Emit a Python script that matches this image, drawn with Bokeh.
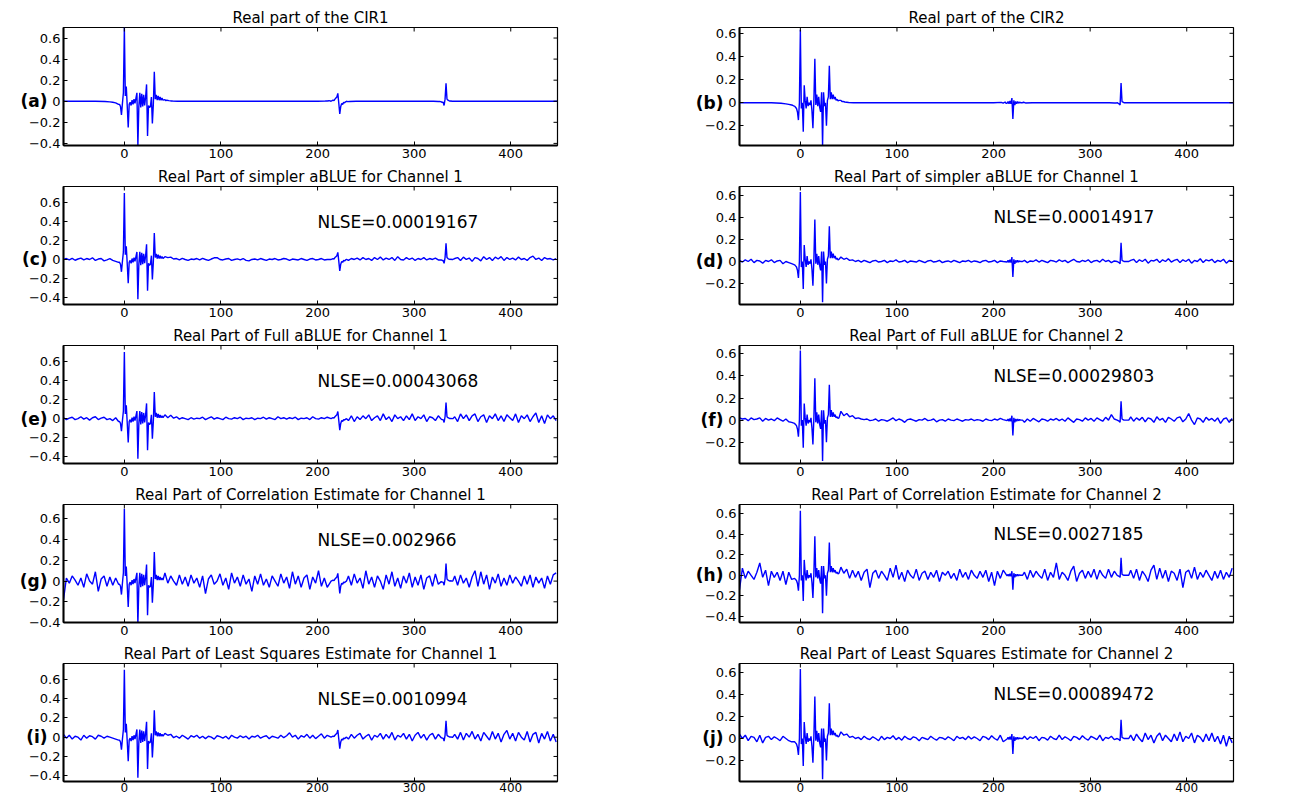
import math
from bokeh.plotting import figure
from bokeh.layouts import column, row
from bokeh.models import Range1d, FixedTicker, LinearAxis, Label
from bokeh.embed import file_html
from bokeh.resources import INLINE

# ---------------- data ----------------
X_START, X_END = -63, 448.4
X_TICKS = [0, 100, 200, 300, 400]

# sample indices of the dense parts (main cluster, echo near 220, echo near 333)
CORE1_X = list(range(-6, 41))
CORE2_X = list(range(214, 231))
CORE3_X = list(range(328, 341))
# sample indices of the background (noise) samples in the estimates
BG_X = list(range(-63, -7, 3)) + list(range(42, 213, 3)) + list(range(232, 327, 3)) + list(range(342, 449, 3))

CH1_CORE1 = [-0.03, -0.03, -0.05, -0.13, -0.02, 0.08, 0.70, 0.05, 0.14, -0.05,
             -0.25, -0.03, -0.01, -0.04, 0.01, -0.03, 0.02, -0.02, 0.03, 0.08,
             -0.42, -0.05, 0.08, -0.06, 0.07, -0.05, 0.06, -0.04, 0.04, 0.16,
             -0.33, -0.04, -0.06, -0.05, 0.04, -0.21, -0.03, 0.28, 0.02, 0.06,
             0.01, 0.05, 0.01, 0.04, 0.01, 0.03, 0.01]
CH1_CORE2 = [0.0, 0.005, 0.01, 0.005, 0.02, 0.03, 0.04, 0.075, -0.02, -0.12,
             -0.05, -0.02, -0.03, -0.01, -0.015, -0.005, 0.0]
CH1_CORE3 = [-0.005, -0.01, -0.01, -0.04, 0.02, 0.17, 0.02, 0.01, 0.005, 0.0,
             0.003, 0.0, 0.0]

CH2_CORE1 = [-0.03, -0.04, -0.05, -0.08, -0.15, 0.0, 0.63, -0.05, 0.0, -0.25,
             0.15, 0.02, -0.05, 0.05, -0.03, 0.0, -0.02, 0.02, -0.07, -0.22,
             0.02, 0.38, -0.02, 0.07, -0.03, 0.05, -0.04, -0.08, 0.09, -0.37,
             0.09, -0.03, 0.0, -0.20, 0.02, 0.05, 0.32, 0.03, 0.09, 0.03,
             0.07, 0.03, 0.05, 0.02, 0.03, 0.015, 0.02]
CH2_CORE2 = [-0.005, 0.01, -0.01, 0.015, -0.01, 0.04, -0.14, 0.02, -0.02, 0.01,
             -0.01, 0.01, -0.005, 0.005, 0.0, 0.0, 0.0]
CH2_CORE3 = [0.0, -0.005, -0.01, -0.02, 0.17, 0.01, 0.005, 0.0, 0.0, 0.0,
             0.0, 0.0, 0.0]

# true CIR outside the dense parts
CIR1_TAIL_X = [-63, -30, -20, -15, -12, -9, -8, -7, 42, 43, 44, 46, 48, 50, 55,
               200, 208, 210, 212, 213, 231, 233, 240, 320, 325, 327, 341, 448]
CIR1_TAIL_Y = [0.0, 0.0, -0.003, -0.006, -0.01, -0.015, -0.02, -0.025, 0.015, 0.005, 0.01, 0.006, 0.003, 0.002, 0.0,
               0.0, 0.002, 0.003, 0.005, 0.004, -0.004, -0.002, 0.0, 0.0, -0.002, -0.003, 0.0, 0.0]
CIR2_TAIL_X = [-63, -30, -20, -15, -12, -9, -8, -7, 42, 43, 44, 46, 48, 50, 55,
               200, 208, 210, 212, 213, 231, 233, 240, 320, 325, 327, 341, 448]
CIR2_TAIL_Y = [0.0, 0.0, -0.005, -0.01, -0.015, -0.02, -0.022, -0.027, 0.02, 0.01, 0.012, 0.006, 0.004, 0.002, 0.0,
               0.0, 0.003, -0.004, 0.006, -0.006, 0.004, -0.002, 0.0, 0.0, -0.002, -0.003, 0.0, 0.0]

# background samples of each estimate (values at BG_X)
BG_C = [0.0, 0.01, -0.005, 0.012, -0.008, 0.005, 0.015, -0.005, 0.01, 0.0,
        0.018, -0.01, 0.005, 0.01, -0.015, -0.005, 0.008, -0.01, -0.02,
        0.03, 0.02, 0.025, 0.005, 0.01, -0.005, 0.012, 0.0, -0.01, 0.005,
        0.0, 0.01, -0.005, 0.012, 0.0, -0.01, 0.005, 0.018, 0.02, 0.0,
        -0.005, 0.005, 0.01, -0.01, 0.0, 0.006, -0.005, 0.01, -0.01, -0.015,
        0.0, 0.005, -0.005, 0.01, 0.0, -0.01, 0.005, 0.0, 0.01, -0.005,
        0.0, 0.01, 0.005, -0.01, 0.005, 0.0, -0.005, 0.01, 0.0, -0.01,
        0.005, 0.01, -0.005, 0.0, 0.01, -0.005, 0.0,
        -0.01, 0.01, 0.0, 0.015, -0.005, 0.02, 0.0, 0.01, -0.01, 0.02,
        0.0, 0.025, -0.005, 0.015, 0.0, 0.02, -0.01, 0.03, 0.0, -0.005,
        0.02, 0.0, 0.015, -0.01, 0.01, 0.0, 0.02, -0.005, 0.01, 0.0,
        0.015, -0.005,
        0.01, 0.02, -0.01, 0.025, 0.0, 0.015, -0.02, 0.02, 0.01, -0.015,
        0.03, 0.0, 0.02, -0.01, 0.025, 0.005, 0.03, -0.01, 0.02, 0.0,
        0.015, -0.005, 0.025, 0.0, 0.01, -0.01, 0.02, 0.035, 0.0, 0.015,
        -0.01, 0.02, 0.005, 0.01, -0.005, 0.01]
BG_D = [0.01, -0.005, 0.015, 0.0, 0.02, -0.01, 0.01, 0.005, -0.015, 0.01,
        0.0, 0.015, -0.01, 0.005, 0.01, -0.02, 0.0, -0.01, -0.02,
        0.04, 0.02, 0.03, 0.01, 0.015, 0.0, 0.01, -0.005, 0.01, 0.0,
        -0.01, 0.005, 0.01, -0.005, 0.0, 0.01, -0.01, 0.005, 0.0, 0.015,
        -0.005, 0.0, 0.01, -0.01, 0.005, 0.0, -0.005, 0.01, 0.0, -0.01,
        0.005, 0.01, -0.005, 0.0, 0.01, -0.01, 0.0, 0.005, -0.005, 0.01,
        0.0, -0.01, 0.005, 0.0, 0.01, -0.005, 0.005, 0.0, -0.01, 0.005,
        0.01, -0.005, 0.0, 0.01, -0.01, 0.005, 0.0,
        0.01, -0.01, 0.005, 0.0, 0.015, -0.005, 0.01, 0.0, -0.01, 0.01,
        0.005, -0.005, 0.015, 0.0, 0.01, -0.01, 0.005, 0.02, 0.0, -0.005,
        0.01, 0.0, 0.015, -0.01, 0.005, 0.01, -0.005, 0.02, 0.0, 0.01,
        -0.01, 0.005,
        0.01, 0.02, -0.01, 0.015, 0.0, 0.02, -0.015, 0.01, 0.005, 0.02,
        -0.01, 0.015, 0.0, 0.025, -0.005, 0.01, 0.02, -0.01, 0.015, 0.0,
        0.02, -0.015, 0.01, 0.0, 0.025, -0.01, 0.015, 0.005, 0.02, -0.01,
        0.01, 0.0, 0.02, -0.015, 0.01, 0.005]
BG_E = [0.01, -0.01, 0.005, 0.015, -0.01, 0.0, 0.02, -0.005, 0.01, -0.015,
        0.01, 0.02, -0.01, 0.005, 0.015, -0.01, 0.0, -0.02, 0.01,
        0.04, 0.01, 0.035, 0.005, 0.02, -0.005, 0.01, 0.0, -0.01, 0.01,
        -0.005, 0.005, 0.0, 0.015, -0.01, 0.005, 0.02, -0.005, 0.01, 0.0,
        -0.01, 0.015, 0.0, -0.005, 0.01, 0.0, 0.015, -0.01, 0.005, 0.0,
        0.01, -0.01, 0.005, 0.0, 0.015, -0.005, 0.01, 0.0, -0.01, 0.02,
        0.0, 0.01, -0.005, 0.01, 0.0, 0.015, -0.01, 0.005, 0.0, 0.01,
        -0.01, 0.02, 0.0, -0.005, 0.01, 0.0, 0.015,
        -0.02, 0.03, -0.03, 0.02, -0.01, 0.03, 0.0, 0.04, -0.02, 0.01,
        0.03, -0.02, 0.05, -0.01, 0.02, -0.03, 0.04, 0.0, 0.02, -0.02,
        0.03, -0.01, 0.05, -0.02, 0.02, 0.0, 0.04, -0.03, 0.02, 0.01,
        -0.02, 0.03,
        0.02, -0.03, 0.05, 0.0, 0.04, -0.02, 0.03, 0.05, -0.03, 0.02,
        0.04, -0.04, 0.03, 0.0, 0.05, -0.02, 0.03, -0.03, 0.04, 0.01,
        -0.02, 0.05, -0.04, 0.03, 0.0, 0.04, -0.03, 0.02, 0.06, -0.04,
        0.03, -0.05, 0.04, 0.0, 0.03, -0.02]
BG_F = [0.02, 0.01, 0.015, -0.005, 0.02, 0.005, 0.01, 0.02, -0.01, 0.015,
        0.0, 0.01, -0.005, 0.02, 0.005, -0.01, 0.01, -0.015, -0.02,
        0.08, 0.04, 0.06, 0.03, 0.04, 0.015, 0.02, 0.01, 0.005, 0.01,
        -0.005, 0.0, 0.01, -0.01, 0.005, 0.0, -0.01, 0.005, 0.02, -0.005,
        0.01, 0.0, -0.02, 0.005, 0.01, 0.0, -0.01, 0.005, 0.0, 0.015,
        -0.005, 0.0, 0.01, -0.015, 0.0, 0.005, -0.01, 0.01, 0.0, -0.005,
        0.01, 0.0, -0.01, 0.005, 0.0, 0.01, -0.005, 0.005, 0.0, -0.01,
        0.01, 0.0, -0.005, 0.01, 0.0, 0.015, 0.005,
        -0.02, 0.01, -0.01, 0.015, 0.0, -0.015, 0.01, 0.005, -0.01, 0.01,
        0.0, 0.015, -0.005, 0.01, -0.01, 0.02, 0.0, -0.02, 0.01, 0.005,
        -0.01, 0.02, 0.0, 0.015, -0.01, 0.02, 0.005, -0.01, 0.025, 0.0,
        0.05, 0.01,
        0.03, -0.01, 0.02, 0.0, 0.025, -0.015, 0.02, 0.01, -0.02, 0.03,
        0.0, 0.015, -0.02, 0.025, 0.01, -0.01, 0.02, 0.03, -0.015, 0.01,
        0.06, 0.0, -0.04, 0.02, 0.01, -0.02, 0.025, 0.0, 0.015, -0.01,
        0.02, -0.03, 0.01, 0.02, -0.02, 0.015]
BG_G = [-0.18, 0.03, -0.02, 0.05, 0.01, -0.04, 0.03, -0.06, 0.07, 0.0,
        -0.03, 0.09, -0.1, 0.02, 0.05, -0.05, 0.04, -0.04, 0.03,
        0.08, -0.02, 0.05, 0.0, -0.04, 0.06, -0.03, 0.04, -0.05, 0.06,
        -0.02, 0.03, -0.06, 0.05, -0.12, 0.02, 0.06, -0.03, 0.0, 0.07,
        -0.04, 0.03, -0.08, 0.08, -0.02, 0.04, -0.05, 0.06, -0.03, 0.02,
        -0.1, 0.05, -0.03, 0.07, -0.04, 0.02, -0.06, 0.05, 0.0, -0.05,
        0.07, -0.02, 0.04, -0.07, 0.09, -0.03, 0.05, -0.06, 0.03, 0.06,
        -0.08, 0.04, -0.02, 0.1, -0.05, 0.03, -0.06,
        0.05, -0.04, 0.07, -0.02, 0.03, -0.07, 0.1, -0.03, 0.04, -0.06,
        0.05, 0.0, -0.08, 0.06, -0.03, 0.09, -0.05, 0.03, -0.07, 0.05,
        -0.02, 0.08, -0.06, 0.04, -0.04, 0.06, -0.08, 0.03, 0.05, -0.05,
        0.07, -0.03,
        0.05, -0.04, 0.06, -0.02, 0.03, -0.06, 0.04, 0.1, -0.05, 0.09,
        -0.03, 0.06, -0.08, 0.04, -0.02, 0.07, -0.05, 0.03, -0.04, 0.06,
        -0.02, 0.04, 0.0, -0.05, 0.05, -0.03, 0.06, -0.06, 0.04, -0.02,
        0.03, -0.07, 0.05, -0.03, 0.06, 0.08]
BG_H = [-0.14, 0.07, -0.03, 0.04, 0.0, -0.04, 0.03, 0.12, -0.02, 0.05,
        -0.1, 0.04, -0.02, 0.03, -0.05, 0.04, -0.09, 0.03, -0.04,
        0.08, 0.02, 0.06, -0.03, 0.05, -0.02, 0.04, -0.05, 0.03, 0.06,
        -0.12, 0.02, 0.05, -0.03, 0.04, 0.0, -0.05, 0.07, -0.02, 0.1,
        -0.04, 0.03, -0.06, 0.05, 0.0, -0.03, 0.06, -0.05, 0.02, 0.04,
        -0.04, 0.03, -0.02, 0.05, -0.06, 0.03, 0.0, 0.04, -0.03, 0.02,
        -0.05, 0.06, -0.02, 0.03, -0.04, 0.05, 0.0, -0.03, 0.04, -0.02,
        0.05, -0.06, 0.03, -0.1, 0.04, -0.03, 0.05,
        0.03, -0.04, 0.05, -0.02, 0.04, 0.0, -0.03, 0.06, -0.05, 0.03,
        -0.02, 0.12, -0.04, 0.03, 0.0, -0.05, 0.04, 0.09, -0.06, 0.02,
        0.05, -0.03, 0.04, -0.02, 0.06, -0.04, 0.05, 0.0, -0.03, 0.06,
        -0.02, 0.04,
        0.05, -0.03, 0.06, -0.05, 0.04, 0.0, -0.06, 0.05, 0.1, -0.04,
        0.07, -0.03, 0.05, -0.06, 0.04, 0.02, -0.05, 0.06, -0.12, 0.03,
        0.05, -0.03, 0.08, -0.04, 0.03, -0.02, 0.05, 0.0, -0.05, 0.04,
        -0.03, 0.05, -0.04, 0.03, -0.02, 0.07]
BG_I = [0.03, -0.01, 0.02, -0.02, 0.01, 0.0, -0.03, 0.02, -0.01, 0.015,
        0.005, -0.02, 0.02, 0.01, -0.01, 0.01, 0.0, -0.01, -0.02,
        0.04, 0.02, 0.03, -0.005, 0.01, -0.01, 0.02, 0.0, -0.02, 0.015,
        0.0, 0.02, -0.01, 0.01, -0.015, 0.01, 0.0, -0.02, 0.015, 0.005,
        -0.01, 0.01, -0.02, 0.02, 0.0, -0.01, 0.015, -0.005, 0.01, -0.02,
        0.01, 0.0, 0.02, -0.01, 0.005, 0.015, -0.015, 0.01, 0.0, -0.01,
        0.02, -0.005, 0.015, 0.045, 0.0, 0.02, -0.02, 0.015, 0.0, 0.03,
        -0.01, 0.02, -0.015, 0.01, 0.035, -0.01, 0.02,
        -0.02, 0.03, -0.01, 0.02, 0.04, -0.02, 0.01, 0.03, -0.03, 0.02,
        0.0, 0.04, -0.02, 0.03, -0.01, 0.05, -0.03, 0.02, 0.0, 0.04,
        -0.02, 0.03, -0.04, 0.02, 0.05, -0.01, 0.03, -0.03, 0.02, 0.04,
        -0.02, 0.03,
        0.03, -0.02, 0.05, -0.03, 0.04, 0.0, 0.06, -0.02, 0.03, -0.04,
        0.05, 0.01, -0.03, 0.06, -0.02, 0.04, -0.05, 0.03, 0.07, -0.02,
        0.04, -0.04, 0.05, 0.0, -0.03, 0.06, -0.05, 0.03, 0.05, -0.06,
        0.04, -0.02, 0.06, -0.04, 0.03, -0.05]
BG_J = [0.04, 0.0, 0.03, -0.02, 0.02, 0.01, -0.03, 0.03, -0.04, 0.01,
        0.02, -0.01, 0.015, 0.0, -0.02, 0.02, 0.0, -0.02, -0.03,
        0.06, 0.03, 0.04, 0.01, 0.02, 0.0, 0.01, -0.01, 0.02, 0.0,
        -0.01, 0.015, 0.0, -0.02, 0.02, -0.01, 0.01, 0.0, 0.025, -0.01,
        0.01, -0.015, 0.02, 0.0, -0.01, 0.015, 0.005, -0.02, 0.01, 0.0,
        -0.01, 0.02, 0.0, -0.015, 0.01, 0.005, -0.01, 0.015, 0.0, -0.02,
        0.02, 0.0, 0.01, -0.01, 0.02, -0.005, 0.015, 0.0, -0.02, 0.02,
        0.01, -0.01, 0.025, 0.0, -0.015, 0.03, -0.03,
        0.02, -0.01, 0.015, 0.0, 0.02, -0.02, 0.01, 0.005, -0.015, 0.02,
        0.0, -0.01, 0.03, -0.01, 0.015, 0.0, -0.02, 0.02, 0.01, -0.01,
        0.025, 0.0, -0.015, 0.02, 0.005, -0.01, 0.03, -0.02, 0.01, 0.0,
        0.02, -0.01,
        0.03, -0.02, 0.04, 0.0, -0.03, 0.05, -0.01, 0.03, -0.04, 0.02,
        0.05, -0.02, 0.03, 0.0, -0.03, 0.04, -0.02, 0.06, -0.03, 0.02,
        0.0, 0.05, -0.04, 0.03, 0.01, -0.03, 0.04, -0.02, 0.05, -0.03,
        0.02, -0.05, 0.03, -0.07, 0.02, -0.04]

TITLES = ["Real part of the CIR1", "Real part of the CIR2",
          "Real Part of simpler aBLUE for Channel 1", "Real Part of simpler aBLUE for Channel 1",
          "Real Part of Full aBLUE for Channel 1", "Real Part of Full aBLUE for Channel 2",
          "Real Part of Correlation Estimate for Channel 1", "Real Part of Correlation Estimate for Channel 2",
          "Real Part of Least Squares Estimate for Channel 1", "Real Part of Least Squares Estimate for Channel 2"]
TAGS = ["(a)", "(b)", "(c)", "(d)", "(e)", "(f)", "(g)", "(h)", "(i)", "(j)"]
NLSE = [None, None, "0.00019167", "0.00014917", "0.00043068", "0.00029803",
        "0.002966", "0.0027185", "0.0010994", "0.00089472"]
YLIMS = [(-0.42, 0.70), (-0.37, 0.65), (-0.475, 0.77), (-0.39, 0.68), (-0.47, 0.767),
         (-0.393, 0.676), (-0.40, 0.74), (-0.46, 0.69), (-0.46, 0.765), (-0.39, 0.68)]
YT_A = [-0.4, -0.2, 0, 0.2, 0.4, 0.6]
YT_B = [-0.2, 0, 0.2, 0.4, 0.6]
YTICKS = [YT_A, YT_B, YT_A, YT_B, YT_A, YT_B, YT_A, YT_A, YT_A, YT_B]
NLSE_POS = (200, 0.4)

# ---------------- build series ----------------
def merge(parts):
    pts = []
    for xs, ys in parts:
        pts.extend(zip(xs, ys))
    pts.sort(key=lambda t: t[0])
    return [t[0] for t in pts], [t[1] for t in pts]

CH1 = [(CORE1_X, CH1_CORE1), (CORE2_X, CH1_CORE2), (CORE3_X, CH1_CORE3)]
CH2 = [(CORE1_X, CH2_CORE1), (CORE2_X, CH2_CORE2), (CORE3_X, CH2_CORE3)]
SERIES = [
    merge(CH1 + [(CIR1_TAIL_X, CIR1_TAIL_Y)]),
    merge(CH2 + [(CIR2_TAIL_X, CIR2_TAIL_Y)]),
    merge(CH1 + [(BG_X, BG_C)]),
    merge(CH2 + [(BG_X, BG_D)]),
    merge(CH1 + [(BG_X, BG_E)]),
    merge(CH2 + [(BG_X, BG_F)]),
    merge(CH1 + [(BG_X, BG_G)]),
    merge(CH2 + [(BG_X, BG_H)]),
    merge(CH1 + [(BG_X, BG_I)]),
    merge(CH2 + [(BG_X, BG_J)]),
]

FONT = "DejaVu Sans"


def ylabel(t):
    if abs(t) < 1e-9:
        return "0"
    s = "%.1f" % abs(t)
    return ("\u2212" + s) if t < 0 else s


def style_axis(ax, size="13px", standoff=3):
    ax.major_tick_in = 4
    ax.major_tick_out = 0
    ax.minor_tick_in = 0
    ax.minor_tick_out = 0
    ax.axis_line_color = "black"
    ax.axis_line_width = 2
    ax.major_tick_line_color = "black"
    ax.major_label_text_font = FONT
    ax.major_label_text_font_size = size
    ax.major_label_text_color = "black"
    ax.major_label_standoff = standoff


def panel(i):
    left = (i % 2 == 0)
    r = i // 2
    xs, ys = SERIES[i]
    ylo, yhi = YLIMS[i]
    p = figure(frame_width=494, frame_height=118, output_backend="svg", toolbar_location=None,
               x_range=Range1d(X_START, X_END), y_range=Range1d(ylo, yhi),
               x_axis_type=None, y_axis_type=None,
               min_border_left=63 if left else 122, min_border_right=60 if left else 20,
               min_border_top=27 if r == 0 else 21, min_border_bottom=16 if r == 4 else 19,
               title=TITLES[i])
    p.title.text_font = FONT
    p.title.text_font_size = "15px"
    p.title.text_font_style = "normal"
    p.title.text_color = "black"
    p.title.align = "center"
    p.title.standoff = 2
    p.background_fill_color = "white"
    p.border_fill_color = "white"
    p.outline_line_color = "black"
    p.outline_line_width = 1.2

    p.line(xs, ys, line_color="#0000ff", line_width=1.4)

    yt = YTICKS[i]
    # inward tick marks on the top and right edges of the box
    p.ray(x=X_TICKS, y=[yhi] * len(X_TICKS), length=4, length_units="screen",
          angle=-math.pi / 2, line_color="black", line_width=1)
    p.ray(x=[X_END] * len(yt), y=yt, length=4, length_units="screen",
          angle=math.pi, line_color="black", line_width=1)

    bottom = LinearAxis(ticker=FixedTicker(ticks=X_TICKS, minor_ticks=[]))
    style_axis(bottom, "13px" if r < 4 else "12px", 3 if r < 4 else 1)
    lefta = LinearAxis(ticker=FixedTicker(ticks=yt, minor_ticks=[]),
                       major_label_overrides={t: ylabel(t) for t in yt})
    style_axis(lefta)
    tag = LinearAxis(ticker=FixedTicker(ticks=[0], minor_ticks=[]),
                     major_label_overrides={0: TAGS[i]})
    tag.axis_line_color = None
    tag.major_tick_line_color = None
    tag.minor_tick_line_color = None
    tag.major_tick_in = 0
    tag.major_tick_out = 0
    tag.major_label_text_font = FONT
    tag.major_label_text_font_size = "17px"
    tag.major_label_text_font_style = "bold"
    tag.major_label_text_color = "black"
    tag.major_label_standoff = -22
    p.add_layout(bottom, "below")
    p.add_layout(lefta, "left")
    p.add_layout(tag, "left")

    if NLSE[i] is not None:
        p.add_layout(Label(x=NLSE_POS[0], y=NLSE_POS[1], text="NLSE=" + NLSE[i],
                           text_align="left", text_baseline="middle", text_font=FONT,
                           text_font_size="17px", text_color="black"))
    return p


panels = [panel(i) for i in range(10)]
layout = column(*[row(panels[2 * r], panels[2 * r + 1]) for r in range(5)])

open("out.html", "w").write(file_html(layout, INLINE))
